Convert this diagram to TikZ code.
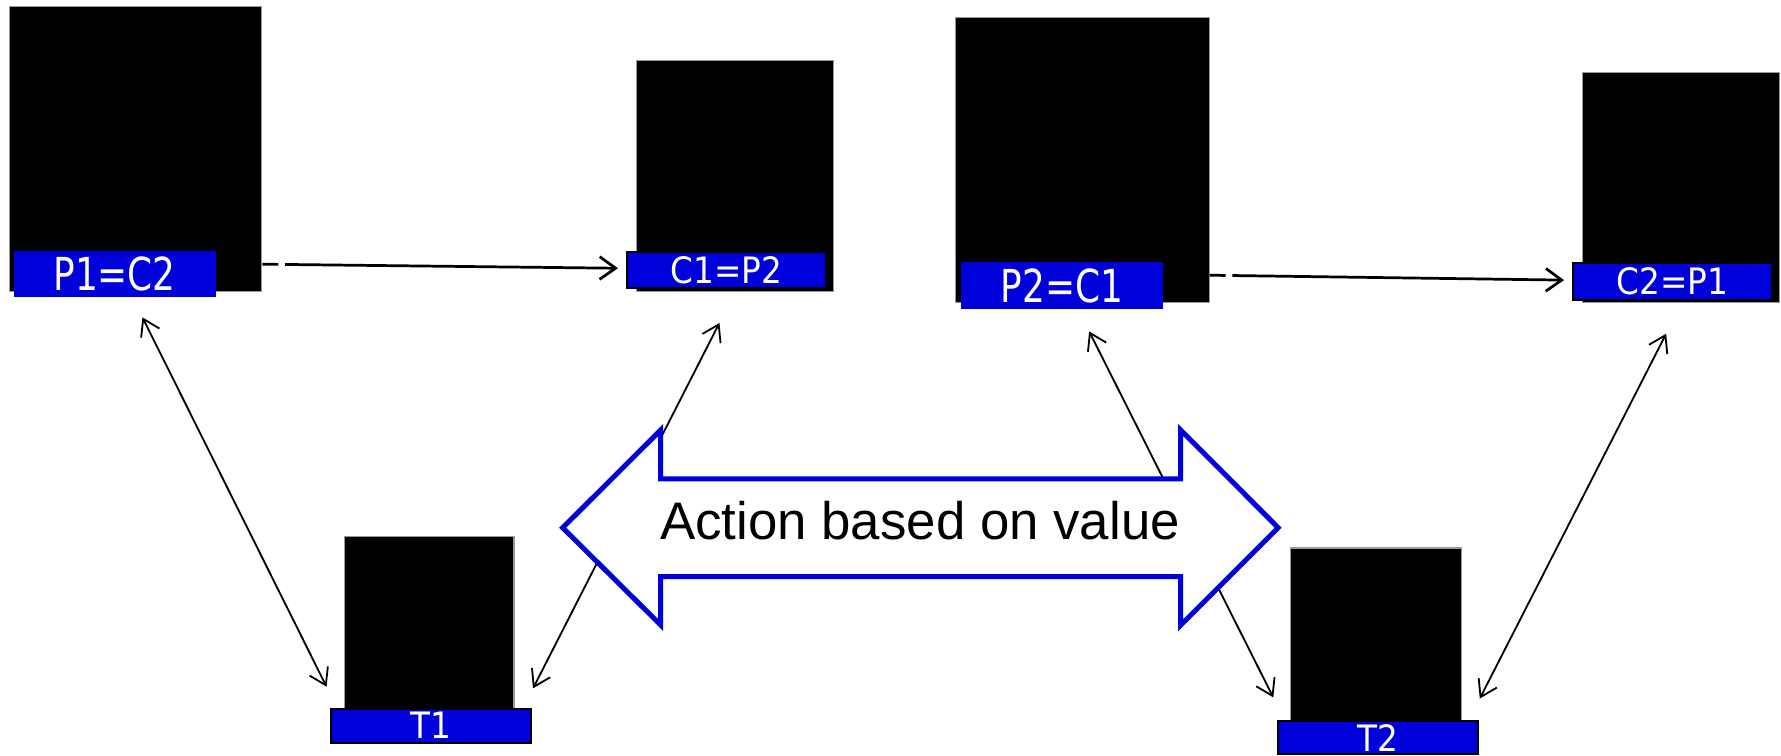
\documentclass[tikz,border=0pt]{standalone}
\usepackage{fontspec}
\usepackage{graphicx}
\usepackage{tikz}
\usetikzlibrary{arrows.meta}
\newfontfamily\lblfont{DejaVu Sans}
\newfontfamily\actfont{Liberation Sans}
\definecolor{mblue}{rgb}{0, 0, 0.86}
\definecolor{mgray}{rgb}{0.6, 0.6, 0.6}
\tikzset{blk/.style = {fill, draw = mgray, line width = 1pt, inner sep = 0, anchor = north west}}
\tikzset{tag/.style = {fill = mblue, draw = black, line width = 1.8pt, inner sep = 0, anchor = north west, text = white}}
\tikzset{flow/.style = {line width = 2.4pt, -{Straight Barb[length = 14pt, width = 20pt]},
                        dash pattern = on 14pt off 6pt on 400pt}}
\tikzset{link/.style = {line width = 1.6pt,
                        {Straight Barb[length = 14pt, width = 18pt]}-{Straight Barb[length = 14pt, width = 18pt]}}}
\newcommand{\bigtag}[1]{\scalebox{0.79}[1]{\lblfont\fontsize{40}{40}\selectfont #1}}
\newcommand{\smalltag}[1]{\scalebox{0.9}[1]{\lblfont\fontsize{32}{32}\selectfont #1}}

\begin{document}
\begin{tikzpicture}[x = 1pt, y = -1pt]
      \useasboundingbox (0, 0) rectangle (1568, 665);

      \node [blk, minimum width = 222pt, minimum height = 251pt] (bP1) at (8, 5) {};
      \node [blk, minimum width = 173pt, minimum height = 203pt] (bC1) at (560, 53) {};
      \node [blk, minimum width = 223pt, minimum height = 251pt] (bP2) at (841, 15) {};
      \node [blk, minimum width = 173pt, minimum height = 203pt] (bC2) at (1393, 63) {};
      \node [blk, minimum width = 149pt, minimum height = 153pt] (bT1) at (303, 472) {};
      \node [blk, minimum width = 150pt, minimum height = 153pt] (bT2) at (1136, 482) {};

      \node [tag, draw = mblue, minimum width = 176pt, minimum height = 39pt] (lP1) at (12, 221) {\bigtag{P1=C2}};
      \node [tag, minimum width = 175pt, minimum height = 31.5pt] (lC1) at (551, 221) {\smalltag{C1=P2}};
      \node [tag, draw = mblue, minimum width = 176pt, minimum height = 39pt] (lP2) at (846, 231) {\bigtag{P2=C1}};
      \node [tag, minimum width = 175pt, minimum height = 32pt] (lC2) at (1384, 231) {\smalltag{C2=P1}};
      \node [tag, minimum width = 176pt, minimum height = 30pt] (lT1) at (290.5, 623) {\smalltag{T1}};
      \node [tag, minimum width = 176pt, minimum height = 29pt] (lT2) at (1124, 634) {\smalltag{T2}};

      \draw [flow] ([shift = {(0, -24.4)}]bP1.south east) -- ([shift = {(-7, -1.5)}]lC1.west);
      \draw [flow] ([shift = {(0, -24.7)}]bP2.south east) -- ([shift = {(-7, -1.3)}]lC2.west);

      \draw [link] ([shift = {(24.5, 17.6)}]lP1.south) -- ([shift = {(-3, -18.4)}]lT1.north west);
      \draw [link] ([shift = {(-6, 30)}]lC1.south) -- ([shift = {(1, -17)}]lT1.north east);
      \draw [link] ([shift = {(24, 20)}]lP2.south) -- ([shift = {(-3, -20)}]lT2.north west);
      \draw [link] ([shift = {(-5.5, 29)}]lC2.south) -- ([shift = {(1, -19)}]lT2.north east);

      \draw [mblue, line width = 4.4pt, fill = white] (495.4, 464.6) -- (581.7, 378.6) -- (581.7, 421.7)
        -- (1039.5, 421.7) -- (1039.5, 378.6) -- (1125.3, 464.6) -- (1039.5, 550.3)
        -- (1039.5, 507.7) -- (581.7, 507.7) -- (581.7, 550.3) -- cycle;
      \node [anchor = base] (act) at (810, 475.4) {\actfont\fontsize{46.5}{50}\selectfont Action based on value};
    \end{tikzpicture}
\end{document}
